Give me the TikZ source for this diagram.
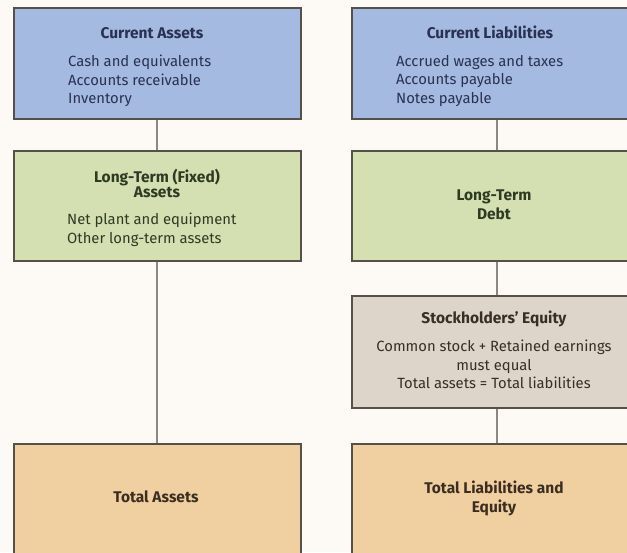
\documentclass[tikz,border=0pt]{standalone}
\usepackage{fontspec}
\setmainfont{Fira Sans}
\definecolor{bg}{HTML}{FDF9F4}
\definecolor{bluef}{HTML}{A4BAE0}
\definecolor{greenf}{HTML}{D4E0B2}
\definecolor{greyf}{HTML}{DDD5CA}
\definecolor{orangef}{HTML}{F0CFA0}
\definecolor{edge}{HTML}{55504A}
\definecolor{conn}{HTML}{8C8782}
\definecolor{tblue}{HTML}{2A3152}
\definecolor{tgreen}{HTML}{2E3A22}
\definecolor{tbrown}{HTML}{3A2E22}
\tikzset{
  box/.style={draw=edge, line width=1.6pt, inner sep=0pt, anchor=north west},
  conline/.style={draw=conn, line width=1.8pt},
  ttl/.style={font=\bfseries\fontsize{15.5}{15}\selectfont, align=center, inner sep=0pt},
  ttlw/.style={font=\bfseries\fontsize{15.5}{19}\selectfont, align=center, inner sep=0pt},
  itm/.style={font=\fontsize{14.8}{18.5}\selectfont, align=left, anchor=north west, inner sep=0pt},
  mid/.style={font=\fontsize{14.8}{18.5}\selectfont, align=center, inner sep=0pt},
}
\begin{document}
\begin{tikzpicture}[x=1pt,y=-1pt]
\useasboundingbox (0,0) rectangle (627,552);
\fill[bg] (0,0) rectangle (627,552);
\clip (0,0) rectangle (627,552);
% left column
\node[box, fill=bluef, minimum width=287pt, minimum height=111pt] (ca) at (13,7) {};
\node[box, fill=greenf, minimum width=287pt, minimum height=110pt] (lta) at (13,150) {};
\node[box, fill=orangef, minimum width=287pt, minimum height=125pt] (ta) at (13,443) {};
% right column
\node[box, fill=bluef, minimum width=290pt, minimum height=111pt] (cl) at (351,7) {};
\node[box, fill=greenf, minimum width=290pt, minimum height=110pt] (ltd) at (351,150) {};
\node[box, fill=greyf, minimum width=290pt, minimum height=112pt] (se) at (351,295) {};
\node[box, fill=orangef, minimum width=290pt, minimum height=125pt] (tle) at (351,443) {};
% connectors
\draw[conline] (ca.south) -- (lta.north);
\draw[conline] (lta.south) -- (ta.north);
\draw[conline] (cl.south) -- (ltd.north);
\draw[conline] (ltd.south) -- (se.north);
\draw[conline] (se.south) -- (tle.north);
% texts
\node[ttl, text=tblue] (catitle) at (152,33) {Current Assets};
\node[itm, text=tblue] (caitems) at (68,55) {Cash and equivalents\\Accounts receivable\\Inventory};
\node[ttl, text=tgreen] (ltatitle) at (157,183.5) {Long-Term (Fixed)\\Assets};
\node[itm, text=tgreen] (ltaitems) at (67,213) {Net plant and equipment\\Other long-term assets};
\node[ttl, text=tbrown] (tatitle) at (156,497) {Total Assets};
\node[ttl, text=tblue] (cltitle) at (490,32) {Current Liabilities};
\node[itm, text=tblue] (clitems) at (396,55) {Accrued wages and taxes\\Accounts payable\\Notes payable};
\node[ttlw, text=tgreen] (ltdtitle) at (494,204.5) {Long-Term\\Debt};
\node[ttl, text=tbrown] (setitle) at (494,319) {Stockholders' Equity};
\node[mid, text=tbrown] (seitems) at (494,364.5) {Common stock + Retained earnings\\must equal\\Total assets = Total liabilities};
\node[ttlw, text=tbrown] (tletitle) at (494,498.5) {Total Liabilities and\\Equity};
\end{tikzpicture}
\end{document}
